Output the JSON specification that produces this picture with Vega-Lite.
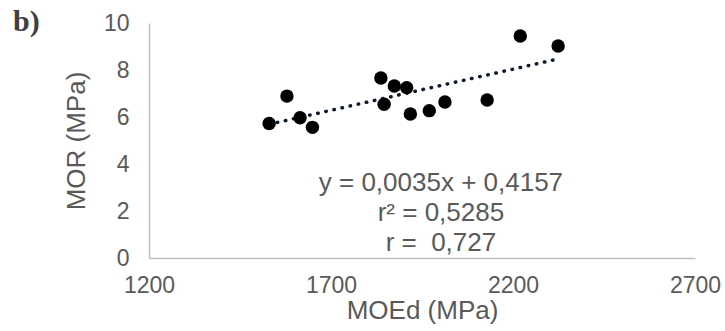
{
  "$schema": "https://vega.github.io/schema/vega-lite/v6.json",
  "autosize": "none",
  "width": 546,
  "height": 235,
  "padding": {"left": 149, "top": 23, "right": 30, "bottom": 73},
  "background": "white",
  "title": {
    "text": "b)",
    "anchor": "start",
    "frame": "group",
    "orient": "top",
    "offset": 0,
    "dx": -136,
    "dy": 49,
    "baseline": "alphabetic",
    "font": "Liberation Serif",
    "fontSize": 30,
    "fontWeight": "bold",
    "color": "#404040"
  },
  "config": {
    "view": {"stroke": null},
    "axis": {
      "grid": false,
      "ticks": false,
      "domainColor": "#bfbfbf",
      "domainWidth": 1.5,
      "labelFont": "Liberation Sans",
      "labelFontSize": 23,
      "labelColor": "#595959",
      "titleFont": "Liberation Sans",
      "titleFontSize": 26,
      "titleFontWeight": "normal",
      "titleColor": "#595959"
    }
  },
  "data": {
    "values": [
      {"MOEd": 1530, "MOR": 5.72},
      {"MOEd": 1579, "MOR": 6.89},
      {"MOEd": 1615, "MOR": 5.97},
      {"MOEd": 1649, "MOR": 5.56},
      {"MOEd": 1837, "MOR": 7.66},
      {"MOEd": 1846, "MOR": 6.54},
      {"MOEd": 1874, "MOR": 7.32},
      {"MOEd": 1908, "MOR": 7.25},
      {"MOEd": 1918, "MOR": 6.13},
      {"MOEd": 1970, "MOR": 6.27},
      {"MOEd": 2013, "MOR": 6.64},
      {"MOEd": 2129, "MOR": 6.72},
      {"MOEd": 2220, "MOR": 9.45},
      {"MOEd": 2324, "MOR": 9.02}
    ]
  },
  "layer": [
    {
      "transform": [{"regression": "MOR", "on": "MOEd"}],
      "mark": {"type": "line", "color": "#0d1a2b", "strokeWidth": 3.5, "strokeCap": "round", "strokeDash": [0.5, 7.8]},
      "encoding": {
        "x": {"field": "MOEd", "type": "quantitative"},
        "y": {"field": "MOR", "type": "quantitative"}
      }
    },
    {
      "mark": {"type": "point", "filled": true, "color": "#000000", "opacity": 1, "size": 180},
      "encoding": {
        "x": {
          "field": "MOEd",
          "type": "quantitative",
          "scale": {"domain": [1200, 2700], "nice": false, "zero": false},
          "axis": {"values": [1200, 1700, 2200, 2700], "format": "d", "labelPadding": 16, "title": "MOEd (MPa)", "titlePadding": 0, "labelFlush": false, "labelOverlap": false}
        },
        "y": {
          "field": "MOR",
          "type": "quantitative",
          "scale": {"domain": [0, 10], "nice": false},
          "axis": {"values": [0, 2, 4, 6, 8, 10], "format": "d", "labelPadding": 20, "title": "MOR (MPa)", "titlePadding": 14}
        }
      }
    },
    {
      "data": {"values": [{}]},
      "mark": {
        "type": "text",
        "text": ["y = 0,0035x + 0,4157", "r² = 0,5285", "r = \u00a00,727"],
        "font": "Liberation Sans",
        "fontSize": 26,
        "lineHeight": 30,
        "color": "#595959",
        "align": "center",
        "baseline": "middle"
      },
      "encoding": {
        "x": {"datum": 2002, "type": "quantitative"},
        "y": {"datum": 3.18, "type": "quantitative"}
      }
    }
  ]
}
